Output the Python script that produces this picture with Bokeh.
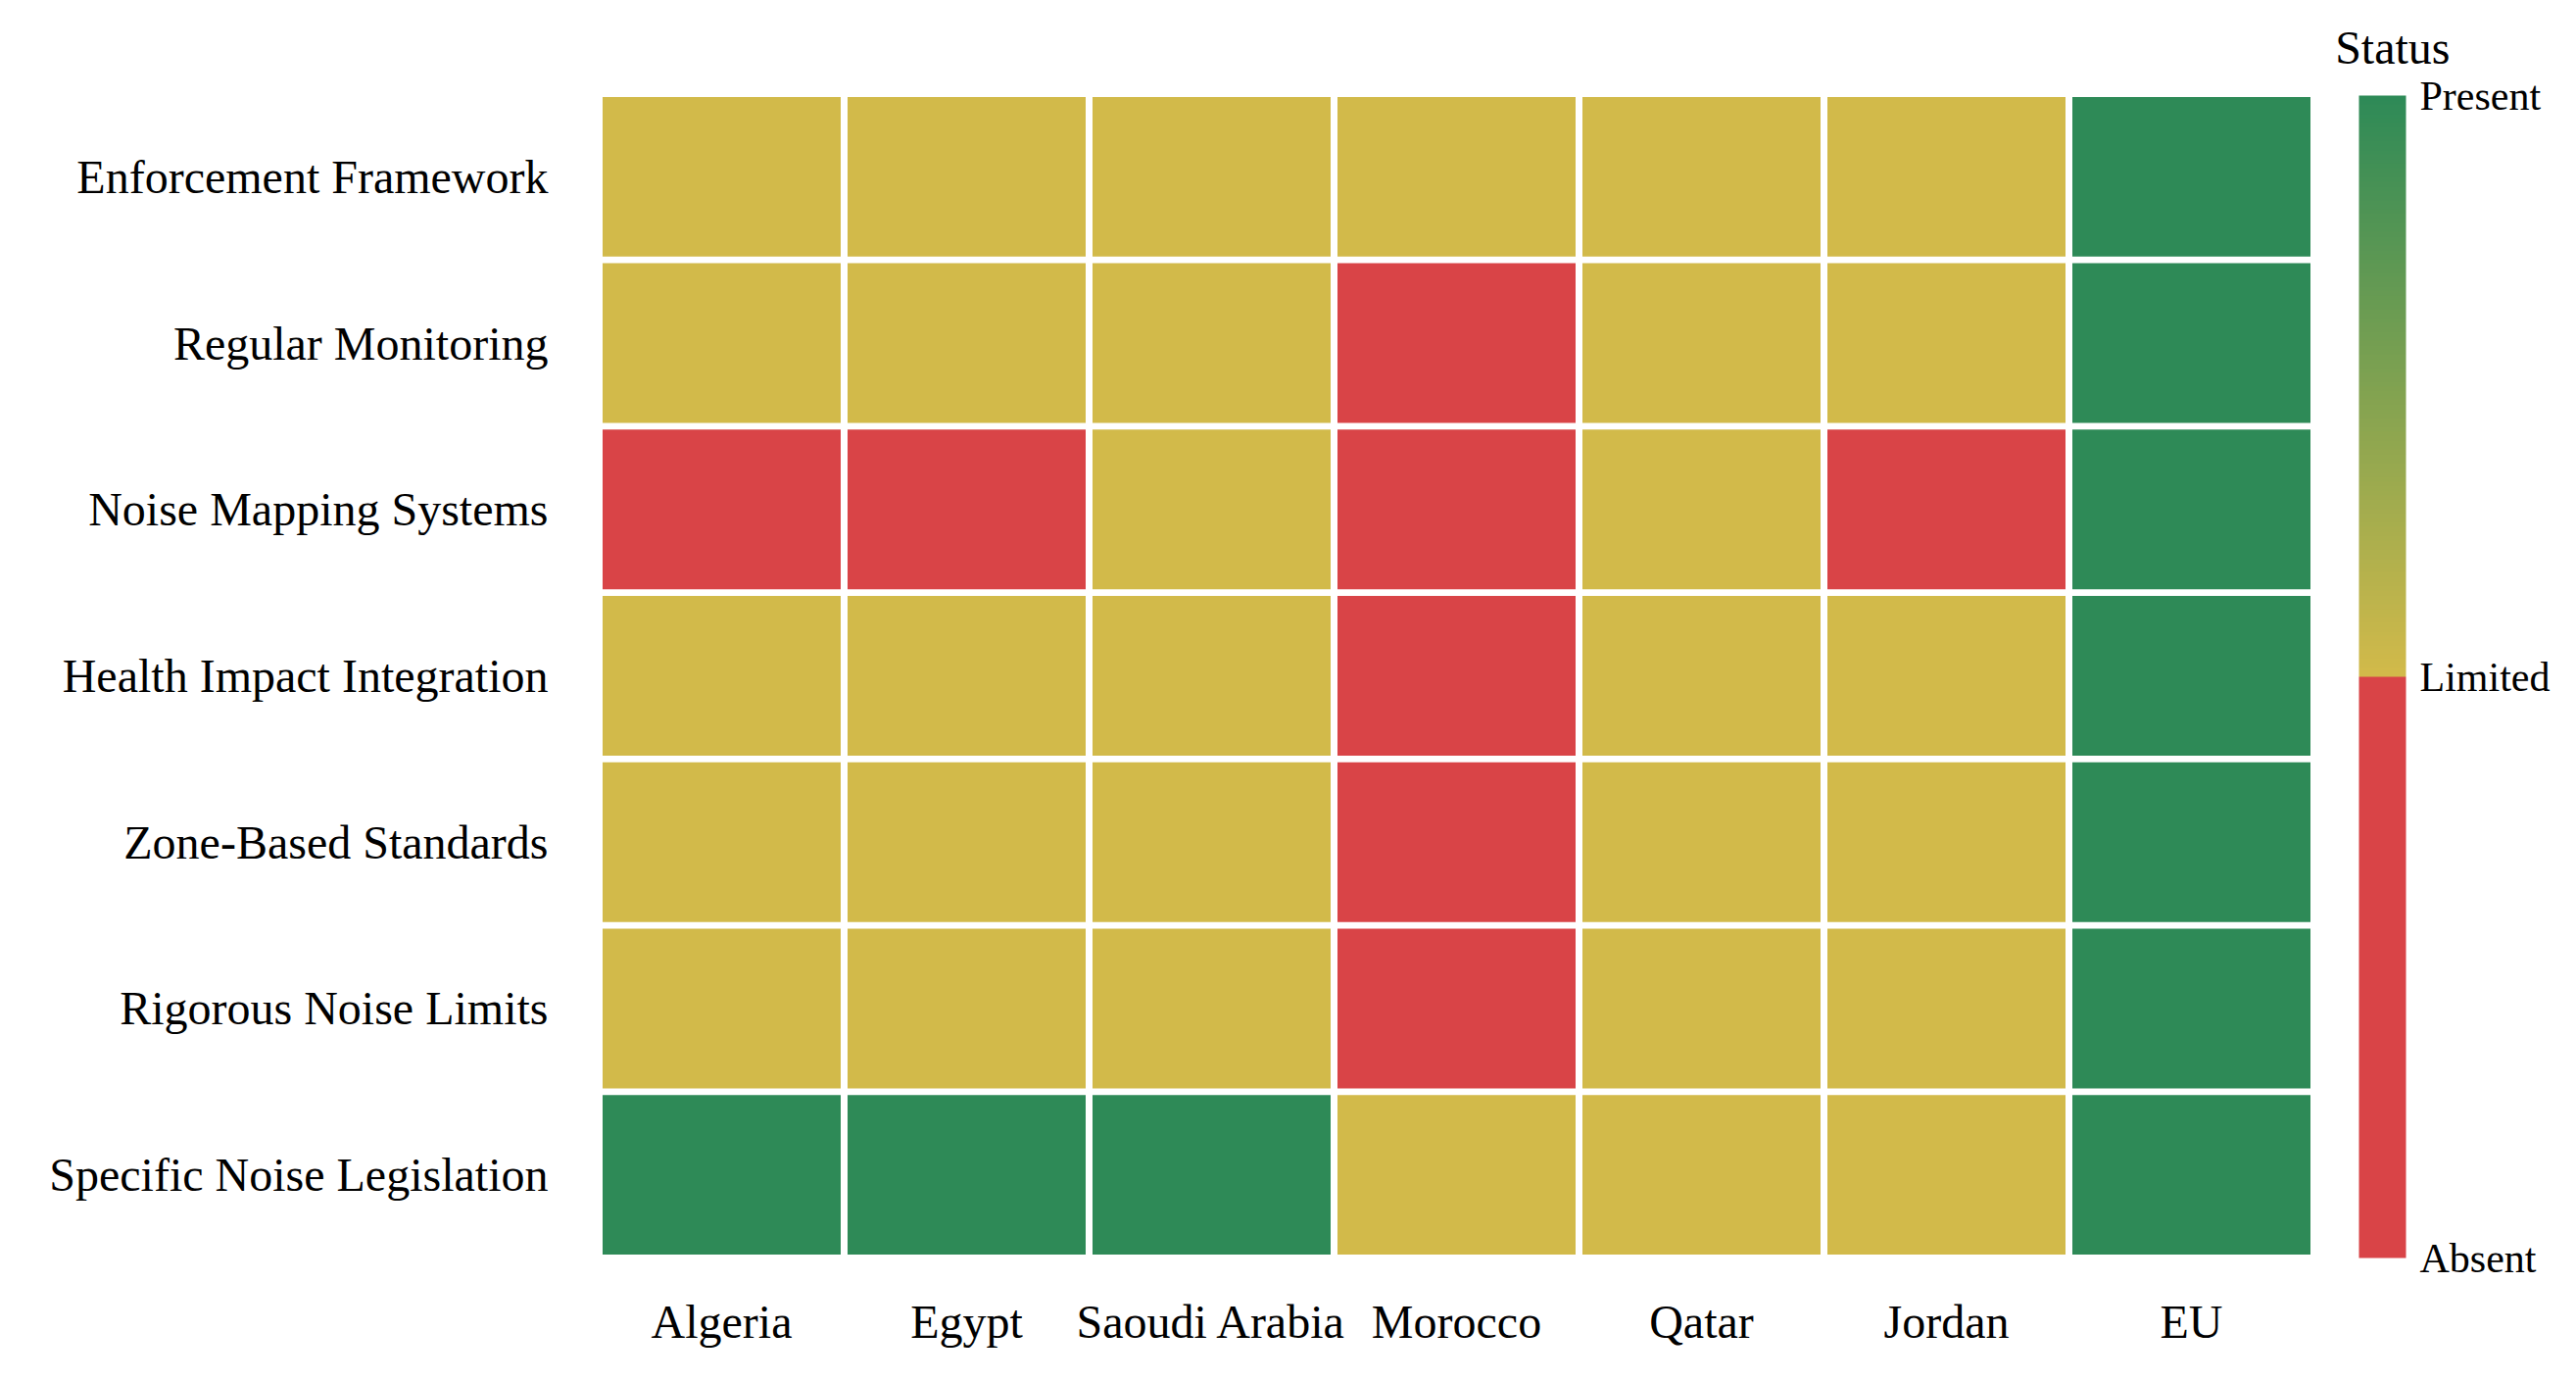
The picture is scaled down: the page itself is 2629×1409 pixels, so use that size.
from bokeh.plotting import figure
from bokeh.models import (ColumnDataSource, LinearColorMapper, ColorBar, FixedTicker,
                          Title, FactorRange)
from bokeh.transform import transform
from bokeh.embed import file_html
from bokeh.resources import INLINE

countries = ["Algeria", "Egypt", "Saoudi Arabia", "Morocco", "Qatar", "Jordan", "EU"]
criteria = ["Enforcement Framework", "Regular Monitoring", "Noise Mapping Systems",
            "Health Impact Integration", "Zone-Based Standards", "Rigorous Noise Limits",
            "Specific Noise Legislation"]
# 0 = Absent, 1 = Limited, 2 = Present
enforcement = [1, 1, 1, 1, 1, 1, 2]
monitoring = [1, 1, 1, 0, 1, 1, 2]
mapping = [0, 0, 1, 0, 1, 0, 2]
health = [1, 1, 1, 0, 1, 1, 2]
zones = [1, 1, 1, 0, 1, 1, 2]
limits = [1, 1, 1, 0, 1, 1, 2]
legislation = [2, 2, 2, 1, 1, 1, 2]
status_labels = ["Absent", "Limited", "Present"]

rows = [enforcement, monitoring, mapping, health, zones, limits, legislation]
xs, ys, vs = [], [], []
for crit, vals in zip(criteria, rows):
    for c, v in zip(countries, vals):
        xs.append(c)
        ys.append(crit)
        vs.append(v)
source = ColumnDataSource(dict(x=xs, y=ys, v=vs))

RED = (217, 68, 71)
YEL = (210, 186, 74)
GRN = (46, 138, 87)
def hexc(c):
    return "#%02x%02x%02x" % tuple(int(round(t)) for t in c)
palette = [hexc(RED)] * 128
for i in range(128):
    t = i / 127
    palette.append(hexc(tuple(YEL[k] + (GRN[k] - YEL[k]) * t for k in range(3))))

mapper = LinearColorMapper(palette=palette, low=0, high=2)

FONT = "Liberation Serif"

p = figure(x_range=FactorRange(*countries), y_range=FactorRange(*criteria[::-1]),
           frame_width=1750, frame_height=1188,
           min_border_left=611, min_border_top=95, min_border_right=235,
           min_border_bottom=105,
           output_backend="svg", toolbar_location=None,
           background_fill_color="white", border_fill_color="white")
p.outline_line_color = None
p.grid.grid_line_color = None

p.rect(x="x", y="y", width=0.972, height=0.96, source=source,
       fill_color=transform("v", mapper), line_color=None)

for ax in (p.xaxis, p.yaxis):
    ax.axis_line_color = None
    ax.major_tick_line_color = None
    ax.minor_tick_line_color = None
    ax.major_tick_out = 0
    ax.major_label_text_font = FONT
    ax.major_label_text_font_size = "48px"
    ax.major_label_text_color = "black"
p.xaxis.major_label_standoff = 38
p.yaxis.major_label_standoff = 52

cb = ColorBar(color_mapper=mapper, ticker=FixedTicker(ticks=[0, 1, 2]),
              major_label_overrides={0: status_labels[0], 1: status_labels[1], 2: status_labels[2]},
              width=48, height=1186, padding=0, margin=0,
              label_standoff=14, major_tick_line_color=None, minor_tick_line_color=None,
              bar_line_color=None, border_line_color=None,
              background_fill_alpha=0,
              major_label_text_font=FONT, major_label_text_font_size="42px",
              major_label_text_color="black", location=(46, 0))
p.add_layout(cb, "right")

title = Title(text="Status", align="right", offset=-139, standoff=38,
              vertical_align="top",
              text_font=FONT, text_font_size="48px", text_font_style="normal",
              text_color="black")
p.add_layout(title, "above")

open("out.html", "w").write(file_html(p, INLINE))
